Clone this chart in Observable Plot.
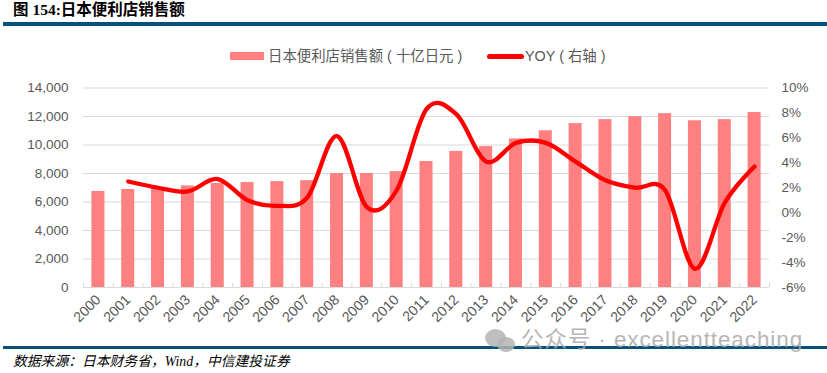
<!DOCTYPE html>
<html lang="zh">
<head>
<meta charset="utf-8">
<script src="https://cdn.jsdelivr.net/npm/d3@7"></script>
<script src="https://cdn.jsdelivr.net/npm/@observablehq/plot@0.6"></script>
<style>
  html, body { margin: 0; padding: 0; background: #fff; }
  #page { position: relative; width: 827px; height: 373px; overflow: hidden; font-family: "Liberation Sans", "Noto Sans CJK SC", sans-serif; }
  #page > * { position: absolute; }
  #title { left: 13px; top: 0; font: bold 15.5px/20px "Liberation Serif", "Noto Sans CJK SC", serif; color: #000; white-space: nowrap; }
  .rule { left: 3px; width: 824px; background: #04527c; }
  #rule1 { top: 22px; height: 4px; }
  #rule2 { top: 346px; height: 3px; }
  #legend { top: 46px; left: 230px; height: 20px; font-size: 14.4px; line-height: 20px; color: #595959; white-space: nowrap; }
  #legend span { position: absolute; top: 0; }
  #legend i { position: absolute; display: block; }
  #chart { left: 0; top: 70px; }
  #source { left: 13px; top: 352px; font: italic 13.8px/20px "Liberation Serif", "Noto Sans CJK SC", serif; color: #000; white-space: nowrap; }
  #mark { left: 521px; top: 326px; font-size: 22.5px; line-height: 28px; letter-spacing: .9px; color: #aaa; opacity: .85; white-space: nowrap; }
  .dot { border-radius: 50%; background: #b4b4b4; opacity: .85; }
</style>
</head>
<body>
<div id="page">
  <div id="title">图 154:日本便利店销售额</div>
  <div id="rule1" class="rule"></div>
  <div id="legend"></div>
  <div id="chart"></div>
  <div id="rule2" class="rule"></div>
  <div class="dot" style="left:485px;top:329px;width:21px;height:18px"></div>
  <div class="dot" style="left:497px;top:337px;width:18px;height:15px"></div>
  <div id="mark">公众号 · excellentteaching</div>
  <div id="source">数据来源：日本财务省，Wind，中信建投证券</div>
</div>
<script>
const years = [2000,2001,2002,2003,2004,2005,2006,2007,2008,2009,2010,2011,2012,2013,2014,2015,2016,2017,2018,2019,2020,2021,2022];
const sales = [6740,6880,7000,7130,7300,7370,7430,7500,8000,8000,8130,8840,9550,9890,10430,11000,11500,11780,11990,12200,11700,11780,12280];
const yoyYears = years.slice(1);
const yoy = [2.5,2.0,1.7,2.7,1.0,0.55,1.2,6.15,0.45,1.8,8.3,7.9,4.1,5.6,5.6,4.1,2.6,2.0,1.8,-4.5,0.8,3.7];
const leftTicks = [0,2000,4000,6000,8000,10000,12000,14000];
const rightTicks = [-6,-4,-2,0,2,4,6,8,10];
const salesName = "日本便利店销售额 ( 十亿日元 )";
const yoyName = "YOY ( 右轴 )";

const barColor = "#ff8080", lineColor = "#ff0000", gridColor = "#d9d9d9", textColor = "#595959";

// the right axis shares the left axis's y scale through this mapping
const toLeft = d3.scaleLinear([-6, 10], [0, 14000]);

const bars = years.map((year, i) => ({year, value: sales[i]}));
const line = yoyYears.map((year, i) => ({year, value: yoy[i]}));
const edges = d3.range(years[0] - 0.5, years[years.length - 1] + 1, 1);

const chart = Plot.plot({
  width: 827, height: 276,
  marginLeft: 83, marginRight: 58, marginTop: 17.5, marginBottom: 59,
  style: {fontFamily: '"Liberation Sans", "Noto Sans CJK SC", sans-serif', fontSize: "13.5px", color: textColor, background: "transparent", overflow: "visible"},
  x: {domain: [years[0] - 0.5, years[years.length - 1] + 0.5]},
  y: {domain: [0, 14000]},
  marks: [
    Plot.ruleY(leftTicks.slice(1), {y: d => d, stroke: gridColor, strokeWidth: 1}),
    Plot.ruleY([0], {stroke: gridColor, strokeWidth: 1}),
    Plot.ruleX(edges, {x: d => d, y1: 0, y2: 280, stroke: gridColor, strokeWidth: 1}),
    Plot.rectY(bars, {x1: d => d.year - 0.5, x2: d => d.year + 0.5, y1: 0, y2: "value", insetLeft: 8.4, insetRight: 8.4, fill: barColor}),
    Plot.line(line, {x: "year", y: d => toLeft(d.value), stroke: lineColor, strokeWidth: 4.3, curve: "cardinal", tension: 0, strokeLinecap: "round", strokeLinejoin: "round"}),
    Plot.axisY(leftTicks, {anchor: "left", label: null, tickSize: 0, tickPadding: 15, tickFormat: d3.format(","), fill: textColor}),
    Plot.axisY(rightTicks.map(d => toLeft(d)), {anchor: "right", label: null, tickSize: 0, tickPadding: 12, tickFormat: d => Math.round(toLeft.invert(d)) + "%", fill: textColor, textAnchor: "start"}),
    Plot.axisX(years, {anchor: "bottom", label: null, tickSize: 0, tickPadding: 10, tickRotate: -45, fontSize: 14.2, tickFormat: d => String(d), fill: textColor})
  ]
});
document.getElementById("chart").appendChild(chart);

const legend = document.getElementById("legend");
legend.innerHTML =
  `<i style="left:0;top:6px;width:34px;height:8px;background:${barColor}"></i>` +
  `<span style="left:38px">${salesName}</span>` +
  `<i style="left:257px;top:7.5px;width:37px;height:5px;border-radius:3px;background:${lineColor}"></i>` +
  `<span style="left:295px">${yoyName}</span>`;
</script>
</body>
</html>
